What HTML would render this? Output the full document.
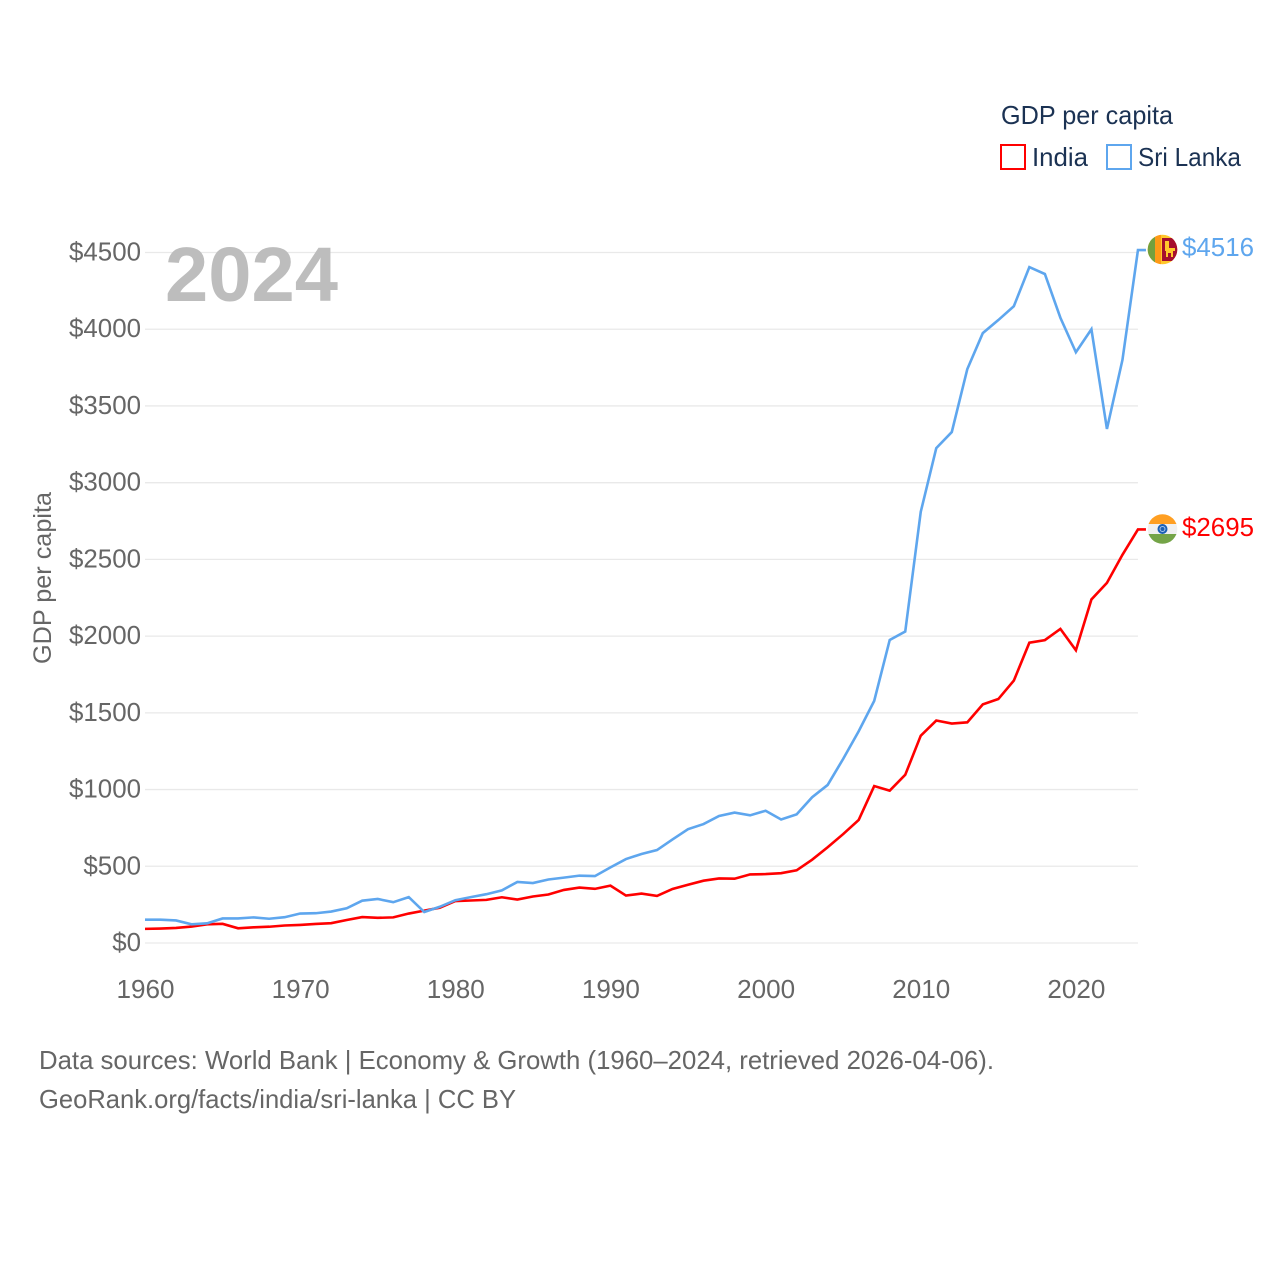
<!DOCTYPE html>
<html lang="en">
<head>
<meta charset="utf-8">
<title>GDP per capita: India vs Sri Lanka</title>
<style>
html,body{margin:0;padding:0;background:#fff;width:1280px;height:1280px;overflow:hidden}
svg{display:block}
text{font-family:"Liberation Sans",sans-serif}
</style>
</head>
<body>
<svg id="chart" xmlns="http://www.w3.org/2000/svg" width="1280" height="1280" viewBox="0 0 1280 1280">
  <g id="grid"></g>
  <text x="165" y="301" font-size="77" font-weight="700" fill="#bdbdbd" textLength="173" lengthAdjust="spacingAndGlyphs">2024</text>
  <g id="y-ticks"></g>
  <g id="x-ticks"></g>
  <text transform="translate(51,578) rotate(-90)" text-anchor="middle" font-size="25" fill="#666" textLength="172" lengthAdjust="spacingAndGlyphs">GDP per capita</text>
  <g id="series"></g>

  <defs>
    <clipPath id="clip-lk"><circle cx="1162.500" cy="249.500" r="14.800"/></clipPath>
    <clipPath id="clip-in"><circle cx="1162.500" cy="529" r="14.800"/></clipPath>
  </defs>
  <g clip-path="url(#clip-lk)">
    <rect x="1147" y="234" width="32" height="32" fill="#ffc72c"/>
    <rect x="1147" y="234" width="8" height="32" fill="#74a03e"/>
    <rect x="1155" y="234" width="6" height="32" fill="#ff9a17"/>
    <rect x="1162" y="238" width="17" height="23" fill="#a50e2e"/>
    <path d="M1165 241h4v7h6v3h-2v6h-2v-4h-3v4h-2v-6h-1z" fill="#ffc72c"/>
  </g>
  <g clip-path="url(#clip-in)">
    <rect x="1147" y="514" width="32" height="10" fill="#ff9f22"/>
    <rect x="1147" y="524" width="32" height="10" fill="#f0f0f0"/>
    <rect x="1147" y="534" width="32" height="10" fill="#74a447"/>
    <circle cx="1162.500" cy="529" r="5" fill="#1a5fb4"/>
    <circle cx="1162.500" cy="529" r="2.500" fill="none" stroke="#a9c6ea" stroke-width="1"/>
  </g>
  <text x="1182" y="256" font-size="26" fill="#5ea6ee" textLength="72" lengthAdjust="spacingAndGlyphs">$4516</text>
  <text x="1182" y="536" font-size="26" fill="#ff0000" textLength="72" lengthAdjust="spacingAndGlyphs">$2695</text>

  <g>
    <text x="1001" y="124" font-size="26" fill="#1b3253" textLength="172" lengthAdjust="spacingAndGlyphs">GDP per capita</text>
    <g>
      <rect x="1001" y="145" width="24" height="24" fill="none" stroke="#ff0000" stroke-width="2"/>
      <text x="1032" y="166" font-size="26" fill="#1b3253" textLength="56" lengthAdjust="spacingAndGlyphs">India</text>
    </g>
    <g>
      <rect x="1107" y="145" width="24" height="24" fill="none" stroke="#5ea6ee" stroke-width="2"/>
      <text x="1138" y="166" font-size="26" fill="#1b3253" textLength="103" lengthAdjust="spacingAndGlyphs">Sri Lanka</text>
    </g>
  </g>

  <text x="39" y="1069" font-size="26" fill="#666" textLength="955" lengthAdjust="spacingAndGlyphs">Data sources: World Bank | Economy &amp; Growth (1960–2024, retrieved 2026-04-06).</text>
  <a><text x="39" y="1108" font-size="26" fill="#666" textLength="477" lengthAdjust="spacingAndGlyphs">GeoRank.org/facts/india/sri-lanka | CC BY</text></a>
</svg>
<script>
const years = [1960,1961,1962,1963,1964,1965,1966,1967,1968,1969,1970,1971,1972,1973,1974,1975,1976,1977,1978,1979,1980,1981,1982,1983,1984,1985,1986,1987,1988,1989,1990,1991,1992,1993,1994,1995,1996,1997,1998,1999,2000,2001,2002,2003,2004,2005,2006,2007,2008,2009,2010,2011,2012,2013,2014,2015,2016,2017,2018,2019,2020,2021,2022,2023,2024];
const indiaValues = [92,94,98,107,122,125,96,102,106,114,118,124,129,150,169,164,167,192,211,230,273,277,281,298,283,303,316,346,361,353,374,309,322,307,352,380,406,421,419,447,449,455,474,543,624,710,802,1023,993,1096,1351,1450,1430,1438,1555,1590,1710,1957,1974,2047,1908,2239,2347,2530,2695];
const sriLankaValues = [152,152,147,122,128,160,160,167,158,168,192,194,205,226,276,287,266,299,202,236,279,299,318,343,398,391,414,426,439,436,493,547,580,606,675,742,775,828,850,832,862,805,838,950,1030,1200,1380,1578,1975,2030,2810,3225,3330,3740,3975,4060,4150,4405,4360,4075,3850,4000,3350,3800,4516];
const yTickValues = [0,500,1000,1500,2000,2500,3000,3500,4000,4500];
const xTickValues = [1960,1970,1980,1990,2000,2010,2020];

const NS = 'http://www.w3.org/2000/svg';
const xScale = function (year) { return 145 + (year - 1960) * 15.515; };
const yScale = function (value) { return 943 - value * 0.15344; };

const grid = document.getElementById('grid');
const yTicks = document.getElementById('y-ticks');
const xTicks = document.getElementById('x-ticks');
const seriesGroup = document.getElementById('series');

yTickValues.forEach(function (v) {
  const line = document.createElementNS(NS, 'line');
  
  
  line.setAttribute('x1', 145);
  line.setAttribute('x2', xScale(2024));
  line.setAttribute('y1', yScale(v));
  line.setAttribute('y2', yScale(v));
  line.setAttribute('stroke', '#e9e9e9');
  line.setAttribute('stroke-width', '1.3');
  grid.appendChild(line);

  const label = document.createElementNS(NS, 'text');
  
  
  const str = '$' + v;
  label.textContent = str;
  label.setAttribute('x', 141);
  label.setAttribute('y', yScale(v) + 8);
  label.setAttribute('text-anchor', 'end');
  label.setAttribute('font-size', '26');
  label.setAttribute('fill', '#666');
  label.setAttribute('textLength', str.length * 14.4);
  label.setAttribute('lengthAdjust', 'spacingAndGlyphs');
  yTicks.appendChild(label);
});

xTickValues.forEach(function (v) {
  const label = document.createElementNS(NS, 'text');
  
  
  label.textContent = String(v);
  label.setAttribute('x', xScale(v) + 0.5);
  label.setAttribute('y', 998);
  label.setAttribute('text-anchor', 'middle');
  label.setAttribute('font-size', '26');
  label.setAttribute('fill', '#666');
  label.setAttribute('textLength', '58');
  label.setAttribute('lengthAdjust', 'spacingAndGlyphs');
  xTicks.appendChild(label);
});

function linePoints(values) {
  const pts = values.map(function (v, i) { return xScale(years[i]) + ',' + yScale(v); });
  const last = values[values.length - 1];
  pts.push((xScale(years[years.length - 1]) + 8) + ',' + yScale(last));
  return pts.join(' ');
}

const sriLankaLine = document.createElementNS(NS, 'polyline');


sriLankaLine.setAttribute('points', linePoints(sriLankaValues));
sriLankaLine.setAttribute('fill', 'none');
sriLankaLine.setAttribute('stroke', '#5ea6ee');
sriLankaLine.setAttribute('stroke-width', '2.6');
seriesGroup.appendChild(sriLankaLine);

const indiaLine = document.createElementNS(NS, 'polyline');


indiaLine.setAttribute('points', linePoints(indiaValues));
indiaLine.setAttribute('fill', 'none');
indiaLine.setAttribute('stroke', '#ff0000');
indiaLine.setAttribute('stroke-width', '2.6');
seriesGroup.insertBefore(indiaLine, sriLankaLine);
</script>
</body>
</html>
